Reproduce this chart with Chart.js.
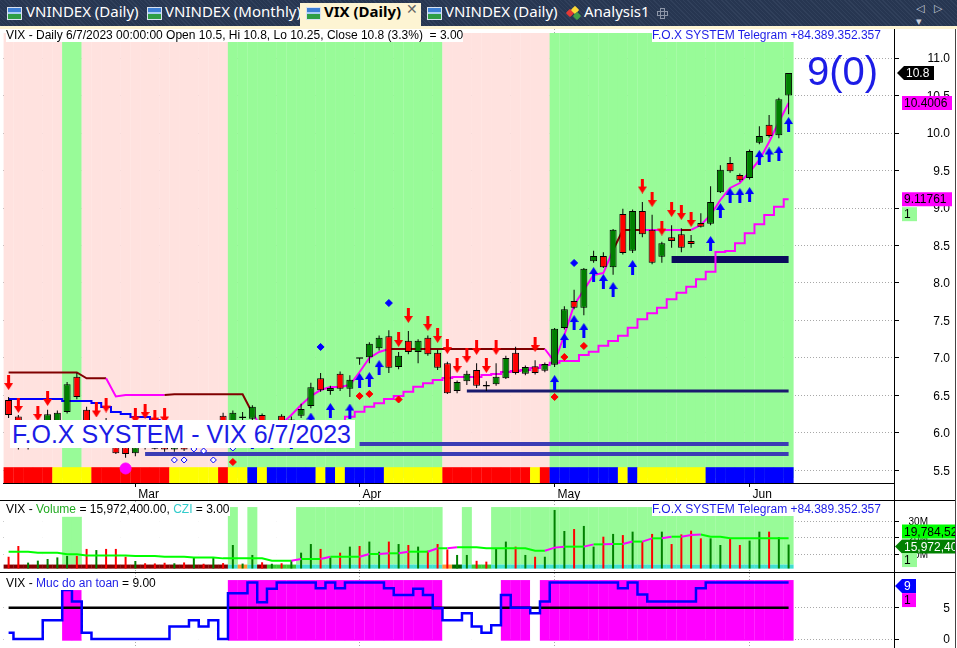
<!DOCTYPE html>
<html>
<head>
<meta charset="utf-8">
<title>VIX (Daily) - F.O.X SYSTEM</title>
<script src="https://cdn.jsdelivr.net/npm/chart.js@4.4.1/dist/chart.umd.min.js"></script>
<style>
  html, body { margin: 0; padding: 0; }
  body { position: relative; width: 957px; height: 648px; overflow: hidden; background: #fff;
         font-family: "Liberation Sans", Arial, sans-serif; }
  #tabs { position: absolute; left: 0; top: 0; width: 957px; height: 26px; background-color: #293955;
          background-image: repeating-linear-gradient(45deg, rgba(255,255,255,.035) 0 1px, rgba(0,0,0,.05) 1px 3px); }
  #tabStrip { position: absolute; left: 0; top: 26px; width: 957px; height: 3px; background: #fdf4d3; }
  #activeTab { position: absolute; left: 300px; top: 3px; width: 121px; height: 23px; background: #fdf4d3; }
  .tabText { position: absolute; top: 1px; line-height: 26px; font: 15px "Noto Sans", sans-serif; color: #fff; white-space: nowrap; }
  .tabText.on { color: #000; font-weight: bold; }
  .tabIcon { position: absolute; top: 7px; width: 15px; height: 13px; box-sizing: border-box; border: 1px solid #d8e2f0;
             background: linear-gradient(#3d7fd6 0 40%, #a9cdf3 40% 55%, #2f9e44 55%); }
  #tabClose { position: absolute; left: 406px; top: 1px; line-height: 26px; font: 14px "DejaVu Sans", sans-serif; color: #666; }
  .cube { position: absolute; width: 6px; height: 6px; transform: rotate(45deg); border-radius: 1px; }
  #plusIcon { position: absolute; left: 657px; top: 8px; width: 11px; height: 11px; }
  #plusIcon div { position: absolute; box-sizing: border-box; border: 1px solid #8d96a8; }
  #tabNav { position: absolute; left: 916px; top: 2px; line-height: 22px; font: 11px "DejaVu Sans", sans-serif; color: #c9cfdb; letter-spacing: 3px; }
  .pane { position: absolute; left: 3px; width: 952px; }
  .ttl { position: absolute; height: 13px; line-height: 13px; font-size: 12px; color: #000; background: #fff; white-space: nowrap; }
  .blue { color: #1c1ce6; }
  .rule { position: absolute; background: #000; }
  #foxBox { position: absolute; left: 10px; top: 420px; width: 345px; height: 28px; line-height: 28px; background: #fff;
            font-size: 25px; color: #1c1ce6; white-space: nowrap; text-indent: 2px; }
  #signal { position: absolute; left: 807px; top: 51px; line-height: 40px; font-size: 40px; color: #1c1ce6; }
</style>
</head>
<body>

<div id="tabs">
  <div class="tabIcon" style="left:7px"></div><div class="tabText" style="left:26px">VNINDEX (Daily)</div>
  <div class="tabIcon" style="left:147px"></div><div class="tabText" style="left:165px">VNINDEX (Monthly)</div>
  <div id="activeTab"></div>
  <div class="tabIcon" style="left:306px"></div><div class="tabText on" style="left:324px">VIX (Daily)</div>
  <div id="tabClose">✕</div>
  <div class="tabIcon" style="left:427px"></div><div class="tabText" style="left:445px">VNINDEX (Daily)</div>
  <div class="cube" style="left:567px;top:10px;background:#e53935"></div>
  <div class="cube" style="left:572px;top:7px;background:#fdd835"></div>
  <div class="cube" style="left:574px;top:13px;background:#43a047"></div>
  <div class="tabText" style="left:584px">Analysis1</div>
  <div id="plusIcon"><div style="left:3px;top:0;width:5px;height:11px"></div><div style="left:0;top:3px;width:11px;height:5px"></div></div>
  <div id="tabNav">◁ ▷ ▾</div>
</div>
<div id="tabStrip"></div>

<div class="pane" style="top:29px;height:471px"><canvas id="priceChart"></canvas></div>
<div class="pane" style="top:501px;height:71px"><canvas id="volumeChart"></canvas></div>
<div class="pane" style="top:573px;height:75px"><canvas id="safetyChart"></canvas></div>

<div class="rule" style="left:0;top:500px;width:956px;height:1px"></div>
<div class="rule" style="left:0;top:572px;width:956px;height:1px"></div>
<div class="rule" style="left:894px;top:29px;width:1px;height:619px"></div>
<div class="rule" style="left:955px;top:29px;width:1px;height:619px;background:#444"></div>

<div class="ttl" style="left:6px;top:29px">VIX - Daily 6/7/2023 00:00:00 Open 10.5, Hi 10.8, Lo 10.25, Close 10.8 (3.3%) &nbsp;= 3.00</div>
<div class="ttl blue" style="left:652px;top:29px">F.O.X SYSTEM Telegram +84.389.352.357</div>
<div id="signal">9(0)</div>
<div id="foxBox">F.O.X SYSTEM - VIX 6/7/2023</div>

<div class="ttl" style="left:6px;top:503px">VIX - <span style="color:#22aa22">Volume</span> = 15,972,400.00, <span style="color:#33cccc">CZI</span> = 3.00</div>
<div class="ttl blue" style="left:652px;top:503px">F.O.X SYSTEM Telegram +84.389.352.357</div>
<div class="ttl" style="left:6px;top:577px">VIX - <span class="blue">Muc do an toan</span> = 9.00</div>

<script>
// --- Axis ticks ---
const monthTickBars = [13, 36, 56, 76];
const monthTickLabels = ['Mar', 'Apr', 'May', 'Jun'];
const priceTicks = [5.5, 6.0, 6.5, 7.0, 7.5, 8.0, 8.5, 9.0, 9.5, 10.0, 10.5, 11.0];
const volumeTicks = [10, 20, 30];
const safetyTicks = [0, 5];

// --- Daily candles, 10 Feb 2023 .. 7 Jun 2023 (81 bars) ---
const opens = [6.44, 6.22, 5.82, 5.95, 6.08, 6.15, 6.28, 6.75, 6.31, 5.95,
  6.15, 5.81, 5.81, 5.73, 5.85, 5.80, 5.85, 5.78, 5.85, 5.80,
  5.92, 5.85, 6.23, 6.00, 6.20, 6.19, 6.24, 6.05, 6.23, 6.10,
  6.23, 6.36, 6.73, 6.56, 6.79, 6.59, 7.00, 7.01, 7.13, 7.29,
  6.88, 7.23, 7.08, 7.27, 7.07, 6.93, 6.56, 6.69, 6.84, 6.63,
  6.65, 6.73, 7.07, 6.79, 6.89, 6.83, 6.91, 7.40, 7.76, 7.67,
  8.29, 8.36, 8.21, 8.92, 8.43, 8.96, 8.71, 8.35, 8.61, 8.65,
  8.56, 8.80, 8.79, 9.21, 9.60, 9.44, 9.40, 9.87, 10.11, 9.97,
  10.5];
const highs = [6.48, 6.24, 5.95, 6.14, 6.31, 6.30, 6.68, 6.80, 6.35, 6.12,
  6.20, 5.90, 5.85, 5.84, 6.00, 5.95, 5.95, 5.90, 5.90, 5.95,
  5.95, 6.00, 6.27, 6.30, 6.28, 6.37, 6.26, 6.12, 6.25, 6.22,
  6.39, 6.67, 6.80, 6.63, 6.82, 6.77, 7.00, 7.21, 7.30, 7.37,
  7.08, 7.36, 7.25, 7.30, 7.11, 6.95, 6.70, 6.83, 6.93, 6.69,
  6.93, 7.03, 7.15, 6.90, 6.97, 6.94, 7.40, 7.69, 7.91, 8.20,
  8.43, 8.41, 8.72, 8.99, 8.98, 9.08, 8.91, 8.55, 8.77, 8.73,
  8.64, 8.93, 9.29, 9.57, 9.68, 9.46, 9.78, 10.09, 10.24, 10.47,
  10.8];
const lows = [6.20, 5.78, 5.78, 5.90, 6.05, 6.12, 6.26, 6.45, 5.97, 5.92,
  5.85, 5.72, 5.67, 5.69, 5.78, 5.78, 5.75, 5.75, 5.76, 5.78,
  5.82, 5.82, 5.95, 5.97, 6.13, 6.15, 6.00, 6.00, 6.05, 6.08,
  6.20, 6.33, 6.55, 6.51, 6.56, 6.48, 6.91, 6.93, 7.10, 6.80,
  6.85, 7.05, 6.93, 7.03, 6.84, 6.52, 6.53, 6.64, 6.60, 6.56,
  6.63, 6.72, 6.78, 6.77, 6.78, 6.81, 6.88, 7.38, 7.65, 7.57,
  8.27, 8.20, 8.11, 8.38, 8.40, 8.61, 8.25, 8.27, 8.47, 8.41,
  8.47, 8.74, 8.77, 9.20, 9.47, 9.35, 9.38, 9.85, 9.94, 9.93,
  10.25];
const closes = [6.24, 5.80, 5.92, 6.10, 6.25, 6.27, 6.65, 6.48, 6.04, 6.02,
  5.88, 5.73, 5.72, 5.81, 5.80, 5.79, 5.78, 5.85, 5.78, 5.92,
  5.85, 5.98, 6.00, 6.27, 6.21, 6.35, 6.05, 6.10, 6.10, 6.18,
  6.32, 6.61, 6.57, 6.60, 6.59, 6.71, 6.99, 7.19, 7.27, 6.87,
  7.03, 7.08, 7.23, 7.05, 6.87, 6.53, 6.68, 6.79, 6.63, 6.62,
  6.75, 7.00, 6.80, 6.88, 6.80, 6.92, 7.39, 7.65, 7.67, 8.19,
  8.36, 8.21, 8.71, 8.40, 8.96, 8.65, 8.27, 8.53, 8.56, 8.47,
  8.52, 8.75, 9.08, 9.51, 9.49, 9.37, 9.76, 9.96, 9.96, 10.45,
  10.8];

// --- Trailing stops (fast: R = resistance, M = support; slow: B = above price, M = below) ---
const fastStop = [6.807, 6.807, 6.807, 6.807, 6.807, 6.807, 6.807, 6.807, 6.729, 6.729,
  6.729, 6.487, 6.507, 6.507, 6.507, 6.507, 6.507, 6.516, 6.516, 6.516,
  6.516, 6.516, 6.516, 6.516, 6.516, 6.267, 6.067, 6.093, 6.12, 6.24,
  6.373, 6.493, 6.573, 6.613, 6.613, 6.64, 6.813, 7.0, 7.08, 7.12,
  7.12, 7.12, 7.12, 7.12, 7.12, 7.12, 7.12, 7.12, 7.12, 7.12,
  7.12, 7.12, 7.12, 7.12, 7.12, 7.12, 6.947, 7.307, 7.707, 7.907,
  8.107, 8.133, 8.44, 8.707, 8.707, 8.707, 8.707, 8.707, 8.707, 8.707,
  8.707, 8.773, 8.907, 9.107, 9.267, 9.333, 9.48, 9.64, 9.88, 10.147,
  10.4006];
const fastSide = ('R'.repeat(11) + 'M'.repeat(6) + 'R'.repeat(9) + 'M'.repeat(14) + 'R'.repeat(16) +
  'M'.repeat(7) + 'R'.repeat(3) + 'M'.repeat(4) + 'R' + 'M'.repeat(10)).split('');
const slowStop = [6.453, 6.453, 6.453, 6.453, 6.453, 6.453, 6.427, 6.427, 6.427, 6.4,
  6.347, 6.28, 6.253, 6.213, 6.213, 6.173, 6.147, 6.12, 6.09, 6.07,
  6.05, 6.04, 6.04, 6.04, 6.04, 6.04, 6.04, 6.04, 6.04, 6.04,
  6.04, 6.04, 6.07, 6.1, 6.14, 6.217, 6.284, 6.351, 6.396, 6.453,
  6.493, 6.551, 6.617, 6.663, 6.707, 6.733, 6.747, 6.747, 6.747, 6.773,
  6.787, 6.813, 6.827, 6.84, 6.867, 6.907, 6.937, 6.96, 6.96, 7.04,
  7.084, 7.164, 7.227, 7.297, 7.404, 7.516, 7.596, 7.671, 7.783, 7.871,
  7.951, 8.049, 8.151, 8.413, 8.427, 8.529, 8.663, 8.783, 8.907, 9.017,
  9.11761];
const slowSide = ('M' + 'B'.repeat(22) + 'M'.repeat(58)).split('');

// --- Horizontal support levels (all run to the last bar) ---
const levelStart = [68, 47, 36, 14];
const levelValue = [8.313, 6.56, 5.853, 5.72];

// --- Signals ---
const sellBars = [0, 1, 3, 4, 9, 10, 13, 14, 15, 16, 40, 41, 43, 44, 45, 46, 47, 48, 49, 50, 54, 65, 66, 67, 68, 69, 70];
const sellLevels = [6.673, 6.367, 6.26, 6.46, 6.307, 6.373, 6.227, 6.287, 6.213, 6.227, 7.247, 7.567, 7.46, 7.3,
  7.153, 6.9, 7.033, 7.14, 6.9, 7.14, 7.18, 9.293, 9.113, 8.733, 8.98, 8.94, 8.847];
const buyBars = [25, 27, 29, 31, 33, 35, 36, 37, 38, 56, 57, 58, 59, 60, 61, 62, 64, 72, 73, 74, 75, 76, 77, 78, 79, 80];
const buyLevels = [5.88, 5.88, 5.88, 6.173, 6.3, 6.293, 6.7, 6.713, 6.873, 6.673, 7.233, 7.473, 7.367, 8.113, 8.02,
  7.913, 8.207, 8.527, 8.967, 9.167, 9.167, 9.18, 9.673, 9.707, 9.727, 10.113];
const redDotBars = [23, 36, 37, 40, 56, 57, 59];
const redDotLevels = [5.613, 6.493, 6.52, 6.447, 6.48, 7.013, 7.16];
const blueDotBars = [32, 39, 58];
const blueDotLevels = [7.147, 7.733, 8.267];
const hollowDotBars = [17, 18, 19, 20, 21, 23];
const hollowDotLevels = [5.64, 5.64, 5.787, 5.76, 5.64, 5.8];
const pinkDotBar = 12;
const pinkDotLevel = 5.527;

// --- Background state per bar ---
const greenZones = [[6, 7], [23, 44], [56, 80]];
const ribbonState = ('RRRRR' + 'YYYY' + 'RRRRRRRR' + 'YYYYY' + 'R' + 'YY' + 'B' + 'Y' + 'BBBBB' + 'Y' + 'B' + 'Y' +
  'BBBB' + 'YYYYYY' + 'RRRRRRRRR' + 'Y' + 'R' + 'BBBBBBB' + 'Y' + 'B' + 'YYYYYYY' + 'BBBBBBBBB').split('');

// --- Volume pane (millions) ---
const volumes = [8.5, 15.1, 4.9, 6.1, 7.1, 8.1, 9.0, 9.0, 13.3, 12.6,
  13.3, 13.3, 8.5, 5.9, 4.5, 4.4, 4.8, 4.5, 5.0, 8.1,
  4.2, 8.1, 4.6, 15.7, 4.3, 9.6, 5.1, 4.2, 4.5, 6.5,
  11.0, 16.3, 13.3, 8.1, 11.0, 14.7, 15.1, 17.8, 11.6, 17.8,
  16.3, 15.7, 14.7, 12.2, 16.3, 13.0, 9.6, 9.6, 6.0, 5.5,
  13.7, 17.8, 14.7, 9.6, 8.5, 8.5, 37.2, 24.3, 25.5, 27.4,
  14.7, 20.8, 22.5, 21.8, 23.9, 17.8, 22.5, 23.9, 16.3, 22.2,
  24.5, 19.8, 19.8, 15.7, 19.8, 15.7, 18.4, 23.9, 23.9, 20.5,
  15.9724];
const volumeAvg = [11.6, 11.6, 11.5, 11.0, 11.0, 10.9, 10.0, 10.0, 9.2, 9.2,
  9.2, 9.2, 9.2, 9.0, 9.0, 9.0, 8.5, 8.5, 8.5, 8.1,
  8.1, 8.1, 7.5, 7.5, 7.5, 7.5, 7.5, 6.1, 6.1, 6.1,
  7.1, 7.1, 7.1, 8.5, 8.5, 8.5, 8.5, 10.2, 10.2, 10.6,
  10.6, 11.6, 11.6, 11.6, 13.7, 13.7, 14.3, 14.3, 14.3, 13.7,
  13.7, 13.7, 13.7, 13.7, 12.2, 12.2, 14.1, 14.7, 14.7, 14.7,
  16.1, 16.1, 16.3, 16.3, 17.8, 17.8, 19.8, 19.8, 20.8, 20.8,
  21.8, 22.2, 20.8, 20.8, 19.9, 19.9, 19.9, 19.9, 19.9, 19.9,
  19.78452];
const volumeZones = [[6, 7], [23, 23], [25, 25], [30, 44], [47, 47], [50, 80]];
const volumeZoneTop = [33, 39, 39, 39, 39, 39];
const volumeRibbon = ('D'.repeat(23) + 'COCD' + 'GGG' + 'C'.repeat(15) + 'OKC' + 'GG' + 'C'.repeat(31)).split('');

// --- Safety pane ("Muc do an toan") ---
const safetyLevel = [1, 0, 0, 0, 3, 3, 7.8, 6, 1, 0,
  0, 0, 0, 0, 0, 0, 0, 2, 2, 3,
  2, 3, 0, 7.3, 7.3, 9, 5.85, 8, 9, 9,
  9, 9, 8.1, 9, 8.1, 9, 9, 9, 9, 8.1,
  7, 7, 8, 7, 4.9, 3, 3, 4.1, 2, 1,
  2.2, 7, 5, 5, 4.1, 6, 9, 9, 9, 9,
  9, 9, 9, 8.1, 9, 7.1, 6, 6, 6, 6,
  6, 8.1, 9, 9, 9, 9, 9, 9, 9, 9,
  9];
const safetyZones = [[6, 7], [23, 44], [51, 53], [55, 80]];
const safetyZoneTop = [7.8, 9.4, 9.4, 9.4];
const safetyThreshold = 5;

// --- Shared layout ---
const X_MIN = -0.574, X_MAX = 90.81;
const AXIS_W = 61;
const lastBar = closes.length - 1;
const bars = closes.map((_, i) => i);
const pts = arr => arr.map((v, i) => ({ x: i, y: v }));
const zoneIndex = (zones, i) => zones.findIndex(([a, b]) => i >= a && i <= b);
const barPct = px => px / 9.75;

const MAGENTA = '#ff00ff', DARK_RED = '#800000';
const RIBBON_COLORS = { R: '#ff0000', Y: '#ffff00', B: '#0000ff' };
const VOL_RIBBON_COLORS = { D: '#800000', C: '#40e0d0', O: '#ff9933', G: '#33cc33', K: '#006400' };
const LEVEL_COLORS = ['#0b0b5c', '#1a1a6e', '#3c3cb4', '#3c3cb4'];
const LEVEL_WIDTHS = [7, 3, 4, 4];
const FONT_FAMILY = '"Liberation Sans", Arial, sans-serif';

Chart.defaults.font.family = FONT_FAMILY;
Chart.defaults.font.size = 12;
Chart.defaults.color = '#000';

function xAxis(withLabels) {
    return {
        type: 'linear', min: X_MIN, max: X_MAX, offset: false,
        afterBuildTicks: s => { s.ticks = monthTickBars.map(v => ({ value: v })); },
        afterFit: s => { s.height = withLabels ? 17 : 0; s.paddingLeft = 0; s.paddingRight = 0; },
        grid: { offset: false, color: '#a8a8a8', drawTicks: withLabels, tickLength: 4, tickColor: '#000', tickBorderDash: [] },
        border: { display: withLabels, color: '#000', dash: [1, 2] },
        ticks: {
            display: withLabels, autoSkip: false, maxRotation: 0, align: 'start', labelOffset: 3, padding: 0,
            callback: (v, i) => monthTickLabels[i]
        }
    };
}

// y labels are drawn right-aligned by the axisLabels plugin below
function yAxis(min, max, ticks) {
    return {
        position: 'right', min, max, beginAtZero: false,
        afterBuildTicks: s => { s.ticks = ticks.map(v => ({ value: v })); },
        afterFit: s => { s.width = AXIS_W; s.paddingTop = 0; s.paddingBottom = 0; },
        grid: { color: '#a8a8a8', tickLength: 5, tickColor: '#000', tickBorderDash: [] },
        border: { display: false, dash: [1, 2] },
        ticks: { display: false }
    };
}

function baseOptions(scales) {
    return {
        responsive: true, maintainAspectRatio: false, animation: false, events: [],
        layout: { padding: 0, autoPadding: false },
        plugins: { legend: { display: false }, tooltip: { enabled: false } },
        scales
    };
}

// --- Helper: right-aligned axis labels ---
function drawAxisLabels(chart, ticks, fmt, rightOffset, size) {
    const { ctx, chartArea, scales } = chart;
    ctx.save();
    ctx.font = size + 'px ' + FONT_FAMILY;
    ctx.fillStyle = '#000';
    ctx.textAlign = 'right';
    ctx.textBaseline = 'middle';
    ticks.forEach(v => ctx.fillText(fmt(v), chartArea.right + rightOffset, scales.y.getPixelForValue(v) + 1));
    ctx.restore();
}

// --- Helper: value tag at the right axis ---
function drawTag(ctx, x, yc, w, text, bg, fg, pointer) {
    const h = 14, tip = pointer ? 7 : 0;
    ctx.save();
    ctx.fillStyle = bg;
    ctx.beginPath();
    ctx.moveTo(x + tip, yc - h / 2);
    ctx.lineTo(x + tip + w, yc - h / 2);
    ctx.lineTo(x + tip + w, yc + h / 2);
    ctx.lineTo(x + tip, yc + h / 2);
    if (pointer) ctx.lineTo(x, yc);
    ctx.closePath();
    ctx.fill();
    ctx.fillStyle = fg;
    ctx.font = '12px ' + FONT_FAMILY;
    ctx.textBaseline = 'middle';
    ctx.fillText(text, x + tip + 2, yc + 1);
    ctx.restore();
}

// --- Helper: arrow point images ---
function makeArrow(color, down) {
    const c = document.createElement('canvas');
    c.width = 9; c.height = 15;
    const g = c.getContext('2d');
    g.fillStyle = color;
    g.beginPath();
    if (down) {
        g.moveTo(3, 0); g.lineTo(6, 0); g.lineTo(6, 8); g.lineTo(9, 8); g.lineTo(4.5, 15); g.lineTo(0, 8); g.lineTo(3, 8);
    } else {
        g.moveTo(4.5, 0); g.lineTo(9, 7); g.lineTo(6, 7); g.lineTo(6, 15); g.lineTo(3, 15); g.lineTo(3, 7); g.lineTo(0, 7);
    }
    g.closePath();
    g.fill();
    return c;
}
const sellArrow = makeArrow('#ff0000', true);
const buyArrow = makeArrow('#0000ff', false);

function markers(barList, levels, style) {
    return Object.assign({
        type: 'line', showLine: false, order: 1,
        data: barList.map((b, k) => ({ x: b, y: levels[k] }))
    }, style);
}

// --- Price pane ---
const priceDatasets = [
    markers(sellBars, sellLevels, { pointStyle: sellArrow, pointRadius: 8 }),
    markers(buyBars, buyLevels, { pointStyle: buyArrow, pointRadius: 8 }),
    markers(redDotBars, redDotLevels, { pointStyle: 'rectRot', pointRadius: 3.5, pointBackgroundColor: '#ff0000', pointBorderColor: '#ff0000' }),
    markers(blueDotBars, blueDotLevels, { pointStyle: 'rectRot', pointRadius: 3.5, pointBackgroundColor: '#0000ff', pointBorderColor: '#0000ff' }),
    markers(hollowDotBars, hollowDotLevels, { pointStyle: 'rectRot', pointRadius: 3, pointBackgroundColor: '#fff', pointBorderColor: '#0000ff', pointBorderWidth: 1 }),
    markers([pinkDotBar], [pinkDotLevel], { pointStyle: 'circle', pointRadius: 5.5, pointBackgroundColor: MAGENTA, pointBorderColor: MAGENTA }),
    {
        type: 'bar', order: 5, grouped: false, categoryPercentage: 1, barPercentage: barPct(7),
        data: bars.map(i => ({ x: i, y: [opens[i], closes[i]] })),
        backgroundColor: bars.map(i => closes[i] >= opens[i] ? '#008000' : '#ff0000'),
        borderColor: '#000', borderWidth: 1, borderSkipped: false, minBarLength: 1.5
    },
    {
        type: 'bar', order: 6, grouped: false, categoryPercentage: 1, barPercentage: barPct(1),
        data: bars.map(i => ({ x: i, y: [lows[i], highs[i]] })), backgroundColor: '#000'
    },
    {
        type: 'line', order: 7, data: pts(fastStop), borderWidth: 2, pointRadius: 0, borderColor: DARK_RED,
        segment: { borderColor: c => fastSide[c.p1DataIndex] === 'M' ? MAGENTA : DARK_RED }
    },
    {
        type: 'line', order: 7, data: pts(slowStop), stepped: 'middle', borderWidth: 2, pointRadius: 0, borderColor: '#0000ff',
        segment: { borderColor: c => slowSide[c.p1DataIndex] === 'M' ? MAGENTA : '#0000ff' }
    },
    ...levelStart.map((s, k) => ({
        type: 'line', order: 8, pointRadius: 0, borderColor: LEVEL_COLORS[k], borderWidth: LEVEL_WIDTHS[k], borderCapStyle: 'butt',
        data: [{ x: s, y: levelValue[k] }, { x: lastBar, y: levelValue[k] }]
    })),
    {
        type: 'bar', order: 9, grouped: false, categoryPercentage: 1, barPercentage: barPct(10),
        data: bars.map(i => ({ x: i, y: [5.333, 5.544] })),
        backgroundColor: bars.map(i => RIBBON_COLORS[ribbonState[i]])
    },
    {
        type: 'bar', order: 10, grouped: false, categoryPercentage: 1, barPercentage: barPct(10),
        data: bars.map(i => ({ x: i, y: [5.4, 11.333] })),
        backgroundColor: bars.map(i => zoneIndex(greenZones, i) >= 0 ? '#98fb98' : '#ffe2df')
    }
];

const priceTags = {
    id: 'priceTags',
    afterDraw(chart) {
        const { ctx, chartArea, scales } = chart;
        const r = chartArea.right;
        drawAxisLabels(chart, priceTicks, v => v.toFixed(1), 56, 12);
        drawTag(ctx, r + 3, scales.y.getPixelForValue(closes[lastBar]), 30, String(closes[lastBar]), '#000', '#fff', true);
        drawTag(ctx, r + 8, scales.y.getPixelForValue(fastStop[lastBar]), 50, String(fastStop[lastBar]), MAGENTA, '#000', false);
        const ys = scales.y.getPixelForValue(slowStop[lastBar]);
        drawTag(ctx, r + 8, ys, 50, String(slowStop[lastBar]), MAGENTA, '#000', false);
        drawTag(ctx, r + 8, ys + 15, 15, '1', '#98fb98', '#000', false);
    }
};

new Chart(document.getElementById('priceChart'), {
    type: 'bar',
    data: { datasets: priceDatasets },
    options: baseOptions({ x: xAxis(true), y: yAxis(5.3333, 11.3867, priceTicks) }),
    plugins: [priceTags]
});

// --- Volume pane ---
const fmtInt = v => Math.round(v * 1e6).toLocaleString('en-US');
const volumeTags = {
    id: 'volumeTags',
    afterDraw(chart) {
        const { ctx, chartArea, scales } = chart;
        const r = chartArea.right;
        drawAxisLabels(chart, volumeTicks, v => v + 'M', 34, 10);
        const yv = scales.y.getPixelForValue(volumes[lastBar]) + 2;
        drawTag(ctx, r + 8, yv - 15, 60, fmtInt(volumeAvg[lastBar]), '#00ff00', '#000', false);
        drawTag(ctx, r + 1, yv, 60, fmtInt(volumes[lastBar]), '#008000', '#fff', true);
        drawTag(ctx, r + 8, yv + 13.5, 15, '1', '#98fb98', '#000', false);
    }
};

new Chart(document.getElementById('volumeChart'), {
    type: 'bar',
    data: {
        datasets: [
            {
                type: 'line', order: 1, data: pts(volumeAvg), borderWidth: 2, pointRadius: 0, borderColor: '#00ff00',
                segment: { borderColor: c => c.p1.parsed.y > c.p0.parsed.y ? MAGENTA : '#00ff00' }
            },
            {
                type: 'bar', order: 3, grouped: false, categoryPercentage: 1, barPercentage: barPct(2), base: 1.3,
                data: pts(volumes), backgroundColor: bars.map(i => closes[i] >= opens[i] ? '#008000' : '#ff0000')
            },
            {
                type: 'bar', order: 4, grouped: false, categoryPercentage: 1, barPercentage: barPct(10),
                data: bars.map(i => ({ x: i, y: [1.2, 3.7] })),
                backgroundColor: bars.map(i => VOL_RIBBON_COLORS[volumeRibbon[i]])
            },
            {
                type: 'bar', order: 5, grouped: false, categoryPercentage: 1, barPercentage: barPct(10),
                data: bars.map(i => {
                    const z = zoneIndex(volumeZones, i);
                    return z >= 0 ? { x: i, y: [3.7, volumeZoneTop[z]] } : null;
                }).filter(Boolean),
                backgroundColor: '#98fb98'
            },
            {
                type: 'bar', order: 6, grouped: false, categoryPercentage: 1, barPercentage: barPct(10),
                data: bars.map(i => ({ x: i, y: [3.7, 39] })), backgroundColor: '#fff'
            }
        ]
    },
    options: baseOptions({ x: xAxis(false), y: yAxis(-0.86, 42.7, volumeTicks) }),
    plugins: [volumeTags]
});

// --- Safety pane ---
const safetyTags = {
    id: 'safetyTags',
    afterDraw(chart) {
        const { ctx, chartArea, scales } = chart;
        const r = chartArea.right;
        drawAxisLabels(chart, safetyTicks, v => String(v), 56, 12);
        const y9 = scales.y.getPixelForValue(safetyLevel[lastBar]) + 3.5;
        drawTag(ctx, r + 1, y9, 14, String(safetyLevel[lastBar]), '#0000ff', '#fff', true);
        drawTag(ctx, r + 8, y9 + 14, 14, '1', MAGENTA, '#000', false);
    }
};

new Chart(document.getElementById('safetyChart'), {
    type: 'bar',
    data: {
        datasets: [
            { type: 'line', order: 1, data: pts(safetyLevel), stepped: 'middle', borderWidth: 2.5, pointRadius: 0, borderColor: '#0000ff' },
            {
                type: 'line', order: 2, pointRadius: 0, borderWidth: 2.5, borderColor: '#000', borderCapStyle: 'butt',
                data: [{ x: 0, y: safetyThreshold }, { x: lastBar, y: safetyThreshold }]
            },
            {
                type: 'bar', order: 3, grouped: false, categoryPercentage: 1, barPercentage: barPct(10),
                data: bars.map(i => {
                    const z = zoneIndex(safetyZones, i);
                    return { x: i, y: [-0.27, z >= 0 ? safetyZoneTop[z] : 9.4] };
                }),
                backgroundColor: bars.map(i => zoneIndex(safetyZones, i) >= 0 ? MAGENTA : '#fff')
            }
        ]
    },
    options: baseOptions({ x: xAxis(false), y: yAxis(-1.435, 10.526, safetyTicks) }),
    plugins: [safetyTags]
});
</script>
</body>
</html>
